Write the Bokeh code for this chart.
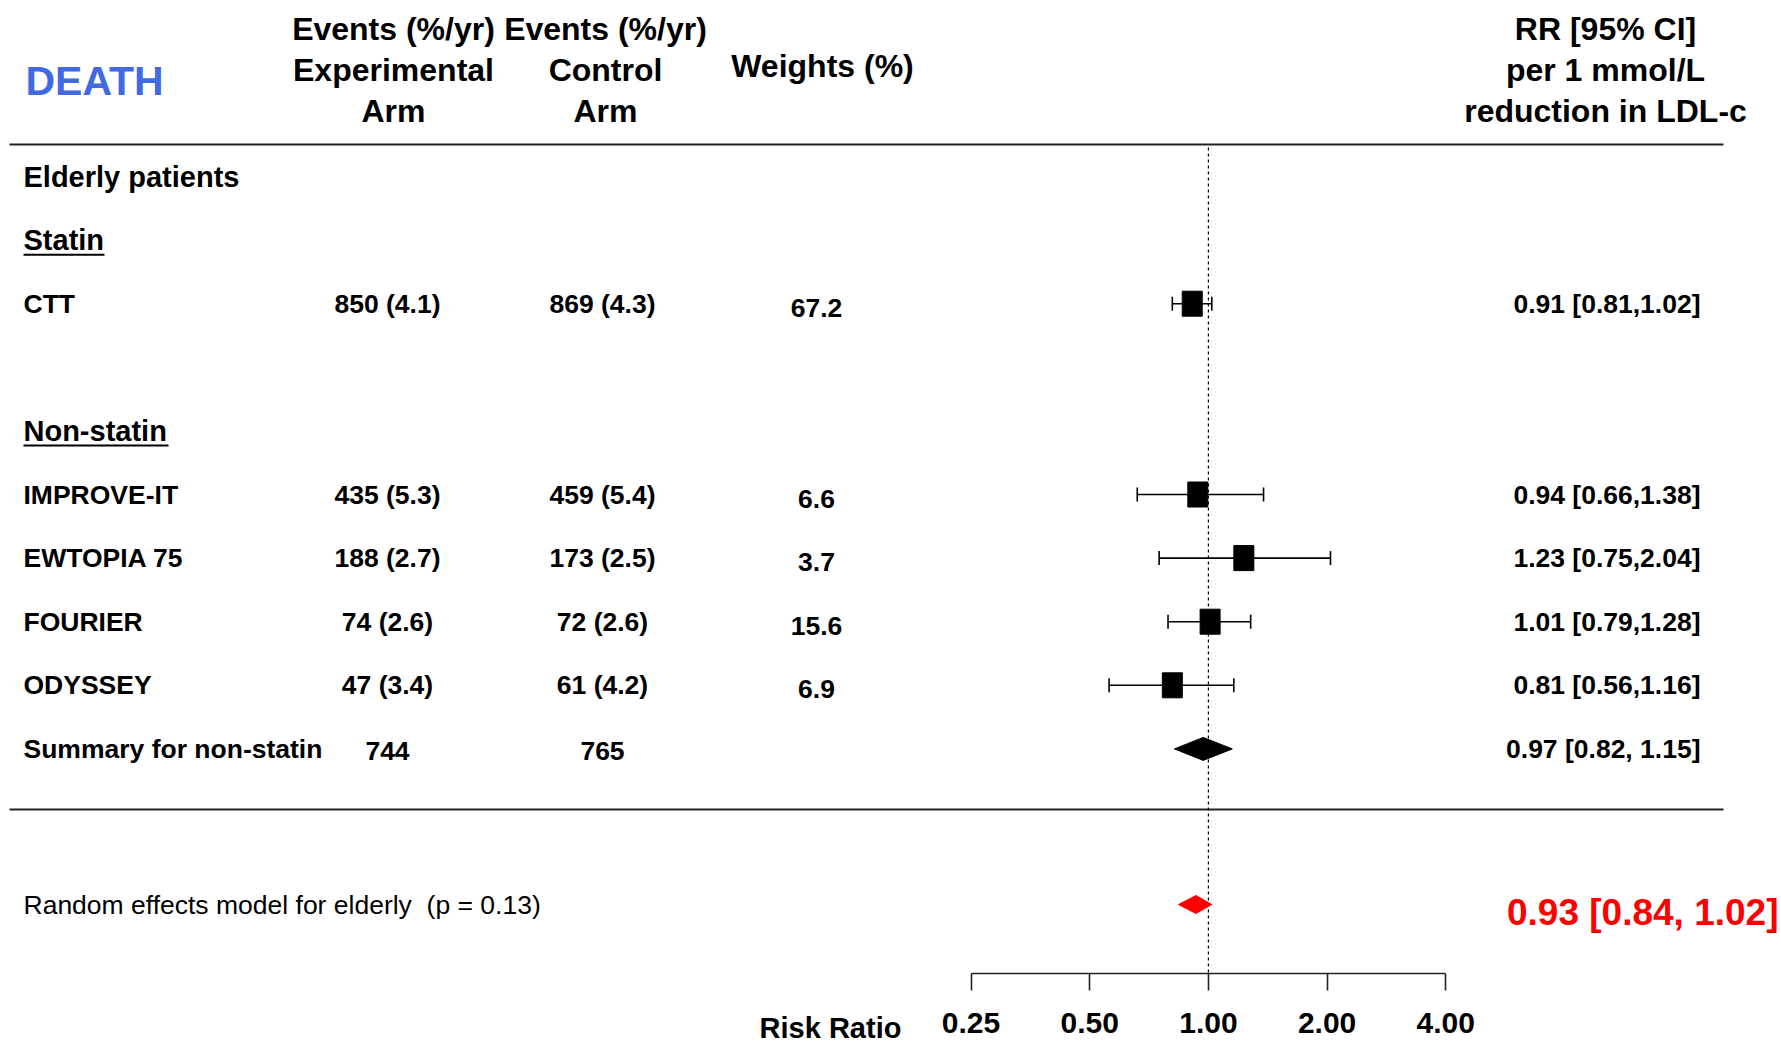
import numpy as np
from bokeh.plotting import figure
from bokeh.models import (Range1d, LogScale, LogAxis, FixedTicker,
                          PrintfTickFormatter, ColumnDataSource)
from bokeh.core.properties import value
from bokeh.embed import file_html
from bokeh.resources import INLINE

# ---------------- data ----------------
studies = ["CTT", "IMPROVE-IT", "EWTOPIA 75", "FOURIER", "ODYSSEY"]
study_rows = [2, 5, 6, 7, 8]
exp_events = ["850 (4.1)", "435 (5.3)", "188 (2.7)", "74 (2.6)", "47 (3.4)"]
ctl_events = ["869 (4.3)", "459 (5.4)", "173 (2.5)", "72 (2.6)", "61 (4.2)"]
weights = [67.2, 6.6, 3.7, 15.6, 6.9]
rr_est = [0.91, 0.94, 1.23, 1.01, 0.81]
rr_lo = [0.81, 0.66, 0.75, 0.79, 0.56]
rr_hi = [1.02, 1.38, 2.04, 1.28, 1.16]

summary_label = "Summary for non-statin"
summary_row = 9
summary_exp = "744"
summary_ctl = "765"
summary_est, summary_lo, summary_hi = 0.97, 0.82, 1.15

random_label = "Random effects model for elderly\u00a0 (p = 0.13)"
random_est, random_lo, random_hi = 0.93, 0.84, 1.02

section_labels = ["Elderly patients", "Statin", "Non-statin"]
section_rows = [0, 1, 4]

axis_ticks = [0.25, 0.5, 1, 2, 4]
axis_title = "Risk Ratio"

# ---------------- layout ----------------
W, H = 1781, 1047
FB = 973            # axis line position in px from top
ROW0, ROWH = 176, 63.6
PX1, PXD = 1207.9, 118.7   # pixel of RR=1 and px per doubling


def ry(px):
    return (px - ROW0) / ROWH


FONT = value("Liberation Sans")

p = figure(width=W, height=H, output_backend="svg", toolbar_location=None,
           x_range=Range1d(0, W), y_range=Range1d(ry(H), ry(0)),
           x_axis_location=None, y_axis_location=None,
           min_border_left=0, min_border_right=0, min_border_top=0,
           min_border_bottom=0)
p.outline_line_color = None
p.background_fill_color = "white"
p.border_fill_color = "white"
p.xgrid.grid_line_color = None
p.ygrid.grid_line_color = None

p.extra_x_ranges = {"rr": Range1d(2 ** (-PX1 / PXD), 2 ** ((W - PX1) / PXD))}
p.extra_x_scales = {"rr": LogScale()}


def txt(x, y, t, size, align="left", bold=True, color="black", dy=0):
    p.text(x=x, y=y, text=t, text_font=FONT,
           text_font_style="bold" if bold else "normal",
           text_font_size=size, text_align=align, text_baseline="middle",
           text_color=color, y_offset=dy)


# header
txt([25], [ry(80)], ["DEATH"], "41px", color="#4169E1")
hdr_y = [ry(28), ry(69), ry(110)]
txt([393] * 3, hdr_y, ["Events (%/yr)", "Experimental", "Arm"], "32px", align="center")
txt([605] * 3, hdr_y, ["Events (%/yr)", "Control", "Arm"], "32px", align="center")
txt([822], [ry(65)], ["Weights (%)"], "32px", align="center")
txt([1605] * 3, hdr_y, ["RR [95% CI]", "per 1 mmol/L", "reduction in LDL-c"], "32px", align="center")

# separator lines
p.segment(x0=[9, 9], x1=[1723, 1723], y0=[ry(144), ry(809)], y1=[ry(144), ry(809)],
          line_color="#222222", line_width=2)

# section labels
txt([23] * 3, section_rows, section_labels, "29px")
# underlines for Statin / Non-statin
ul_w = [81, 145]
p.segment(x0=[23, 23], x1=[23 + ul_w[0], 23 + ul_w[1]],
          y0=[section_rows[1] + 0.23, section_rows[2] + 0.23],
          y1=[section_rows[1] + 0.23, section_rows[2] + 0.23],
          line_color="black", line_width=2)

ROWF = "26.5px"
# study rows
txt([23] * len(studies), study_rows, studies, ROWF)
txt([387] * len(studies), study_rows, exp_events, ROWF, align="center")
txt([602] * len(studies), study_rows, ctl_events, ROWF, align="center")
txt([816] * len(studies), study_rows, ["%.1f" % w for w in weights], ROWF, align="center", dy=4)
rr_strings = ["%.2f [%.2f,%.2f]" % (e, l, h) for e, l, h in zip(rr_est, rr_lo, rr_hi)]
txt([1700] * len(studies), study_rows, rr_strings, ROWF, align="right")

# summary row
txt([23], [summary_row], [summary_label], ROWF)
txt([387], [summary_row], [summary_exp], ROWF, align="center", dy=2)
txt([602], [summary_row], [summary_ctl], ROWF, align="center", dy=2)
txt([1700], [summary_row], ["%.2f [%.2f, %.2f]" % (summary_est, summary_lo, summary_hi)],
    ROWF, align="right")

# random effects row
rand_row = ry(904)
txt([23], [rand_row], [random_label], ROWF, bold=False)
txt([1778], [ry(912)], ["%.2f [%.2f, %.2f]" % (random_est, random_lo, random_hi)],
    "37px", align="right", color="#FF0000")

# reference (dotted) line at RR = 1
p.segment(x0=[1], x1=[1], y0=[ry(147)], y1=[ry(FB)], x_range_name="rr",
          line_color="black", line_width=1.2, line_dash="3 3")

# CI whiskers and caps
src = ColumnDataSource(dict(y=study_rows, est=rr_est, lo=rr_lo, hi=rr_hi))
p.segment(x0="lo", x1="hi", y0="y", y1="y", source=src, x_range_name="rr",
          line_color="black", line_width=1.6)
cap = 7 / ROWH
ys = np.array(study_rows, dtype=float)
p.segment(x0=rr_lo + rr_hi, x1=rr_lo + rr_hi,
          y0=list(ys - cap) * 2, y1=list(ys + cap) * 2,
          x_range_name="rr", line_color="black", line_width=1.6)
p.rect(x="est", y="y", width=20, height=25, width_units="screen", height_units="screen",
       source=src, x_range_name="rr", fill_color="black", line_color="black")

# summary diamond
dh = 11.5 / ROWH
p.patch(x=[summary_lo, summary_est, summary_hi, summary_est],
        y=[summary_row, summary_row - dh, summary_row, summary_row + dh],
        x_range_name="rr", fill_color="black", line_color="black")

# random-effects diamond (red)
rh = 9 / ROWH
p.patch(x=[random_lo, random_est, random_hi, random_est],
        y=[rand_row, rand_row - rh, rand_row, rand_row + rh],
        x_range_name="rr", fill_color="#FF0000", line_color="#FF0000")

# log axis drawn at a fixed location inside the canvas
ax = LogAxis(x_range_name="rr",
             ticker=FixedTicker(ticks=axis_ticks, minor_ticks=[]),
             formatter=PrintfTickFormatter(format="%.2f"),
             bounds=(axis_ticks[0], axis_ticks[-1]),
             fixed_location=ry(FB),
             major_tick_in=0, major_tick_out=17, minor_tick_in=0, minor_tick_out=0,
             axis_line_width=1.6, major_tick_line_width=1.6,
             axis_line_color="#222222", major_tick_line_color="#222222",
             major_label_text_font="Liberation Sans",
             major_label_text_font_style="bold",
             major_label_text_font_size="30px",
             major_label_text_color="black",
             major_label_standoff=22)
p.add_layout(ax, "below")

txt([830], [ry(1027)], [axis_title], "29px", align="center")

open("out.html", "w").write(file_html(p, INLINE))
